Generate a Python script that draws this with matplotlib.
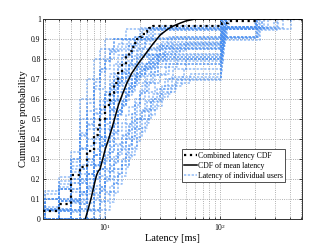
import numpy as np
import matplotlib
matplotlib.use("Agg")
import matplotlib.pyplot as plt
from matplotlib.ticker import LogLocator, NullFormatter

plt.rcParams["font.family"] = ["Liberation Serif", "DejaVu Serif"]
plt.rcParams["mathtext.fontset"] = "stix"

# latency samples [ms] of individual users (approximate)
user_latencies = [
    [2, 3, 4, 5, 5, 5, 6, 6, 6, 6, 7, 7, 8, 8, 9, 9, 10, 12, 104, 210],
    [3, 4, 4, 5, 5, 6, 6, 6, 7, 7, 7, 8, 8, 9, 10, 11, 14, 21, 102],
    [2, 2, 4, 5, 6, 6, 6, 7, 7, 7, 8, 8, 8, 9, 9, 10, 11, 12, 15, 103],
    [4, 5, 5, 6, 6, 7, 7, 7, 8, 8, 8, 9, 9, 10, 10, 11, 12, 16, 25, 101],
    [3, 5, 6, 6, 7, 7, 8, 8, 9, 9, 9, 10, 10, 11, 12, 13, 14, 17, 22, 106, 220],
    [5, 5, 6, 7, 7, 8, 8, 9, 9, 10, 10, 11, 11, 12, 13, 14, 16, 19, 28, 35, 102, 105],
    [2, 4, 6, 7, 8, 8, 9, 9, 10, 10, 10, 11, 12, 12, 13, 15, 18, 24, 30, 101, 103, 108],
    [6, 7, 7, 8, 8, 9, 9, 10, 10, 11, 11, 12, 13, 14, 15, 17, 20, 26, 104],
    [4, 6, 7, 8, 9, 9, 10, 10, 11, 11, 12, 12, 13, 14, 15, 16, 18, 21, 27, 33, 45, 102, 107, 215],
    [7, 8, 8, 9, 9, 10, 10, 11, 11, 12, 13, 13, 14, 15, 16, 18, 20, 23, 29, 38, 101, 104, 110],
    [9, 10, 11, 12, 13, 14, 15, 16, 17, 18, 19, 20, 22, 24, 27, 30, 36, 101, 103, 105, 108, 112],
    [8, 9, 10, 12, 13, 14, 16, 18, 19, 21, 23, 25, 28, 32, 40, 55, 102, 104, 106, 109, 212, 230],
    [3, 5, 8, 10, 12, 14, 15, 17, 19, 21, 24, 26, 30, 35, 101, 102, 104, 107, 111, 205],
    [2, 3, 5, 6, 9, 11, 13, 15, 17, 20, 22, 25, 28, 33, 39, 50, 103, 106, 109, 118],
    [6, 8, 9, 10, 11, 12, 13, 14, 15, 17, 18, 20, 22, 25, 29, 103, 105, 220, 310],
    [3, 4, 5, 5, 6, 7, 8, 9, 10, 11, 12, 13, 14, 16, 18, 22, 27, 102, 106, 107, 210, 350],
    [4, 4, 5, 5, 5, 6, 6, 7, 7, 8, 9, 10, 11, 12, 14, 17, 21, 104, 109, 112],
    [2, 3, 3, 4, 5, 5, 6, 6, 6, 7, 8, 9, 10, 12, 15, 19, 26, 103, 108, 205, 240],
    [5, 6, 6, 7, 7, 7, 8, 8, 8, 9, 9, 9, 10, 10, 11, 11, 12, 13, 15, 18, 24, 101],
    [6, 6, 7, 7, 8, 8, 8, 9, 9, 9, 10, 10, 10, 11, 11, 12, 12, 13, 14, 16, 19, 23, 31, 102, 104, 290],
    [4, 5, 6, 7, 7, 8, 9, 10, 11, 12, 13, 14, 15, 16, 18, 20, 23, 27, 34, 42, 101, 102, 103, 105, 209],
    [7, 9, 10, 11, 12, 13, 14, 15, 16, 17, 18, 19, 21, 23, 26, 31, 38, 48, 103, 104, 106, 107, 110, 115],
    [3, 4, 4, 5, 6, 6, 7, 7, 8, 9, 11, 13, 16, 20, 102, 104, 106],
    [5, 6, 7, 8, 8, 9, 10, 10, 11, 12, 13, 14, 15, 17, 19, 22, 26, 32, 101, 208, 410],
    [2, 4, 5, 5, 6, 6, 7, 7, 8, 8, 9, 9, 10, 10, 11, 12, 13, 14, 16, 18, 20, 102],
    [8, 9, 9, 10, 10, 11, 11, 12, 12, 13, 13, 14, 15, 16, 17, 19, 21, 24, 102, 106, 111],
    [4, 6, 6, 7, 7, 8, 8, 9, 9, 10, 10, 11, 12, 13, 15, 18, 22, 29, 101, 105, 215, 260],
    [10, 11, 12, 13, 14, 15, 16, 17, 19, 20, 22, 24, 27, 31, 35, 41, 102, 104, 105, 107, 109, 114, 203],
    [3, 4, 5, 6, 7, 8, 8, 9, 9, 10, 10, 11, 11, 12, 12, 13, 14, 15, 17, 19, 23, 103],
    [5, 5, 6, 6, 7, 7, 8, 8, 9, 10, 11, 12, 14, 16, 19, 24, 33, 102, 105, 110],
    [6, 7, 8, 9, 10, 11, 12, 13, 14, 15, 16, 17, 18, 19, 20, 22, 24, 26, 29, 34, 40, 50, 101, 103, 230],
    [4, 5, 6, 6, 7, 8, 9, 9, 10, 11, 12, 13, 14, 15, 17, 19, 22, 25, 30, 38, 104, 320],
    [2, 3, 4, 5, 6, 7, 8, 9, 10, 11, 12, 13, 15, 17, 20, 25, 102, 105, 107, 210],
    [7, 8, 9, 10, 11, 12, 13, 14, 15, 16, 17, 18, 20, 21, 23, 25, 28, 104, 106, 108, 112],
    [5, 6, 7, 7, 8, 8, 9, 9, 9, 10, 10, 11, 11, 11, 12, 12, 13, 13, 14, 15, 16, 17, 19, 22, 26, 31, 102],
    [3, 5, 6, 7, 8, 9, 10, 11, 12, 14, 16, 18, 21, 25, 30, 37, 46, 101, 102, 105, 106, 108, 112, 201],
    [3, 4, 4, 5, 5, 5, 6, 6, 6, 6, 6, 6, 7, 7, 8, 8, 9, 10, 101, 205],
    [2, 3, 3, 4, 4, 5, 5, 5, 6, 6, 7, 7, 7, 8, 8, 8, 9, 9, 10, 11, 13, 102, 103, 109],
]

# combined latency CDF (step values)
combined_x = [2.9, 4, 5, 6, 7, 8, 8.6, 9, 10, 11, 12, 13, 14, 15, 16, 17, 18, 19, 20,
              21, 22, 23, 24, 26, 103, 116, 214]
combined_y = [0.04, 0.075, 0.22, 0.26, 0.34, 0.42, 0.47, 0.5, 0.57, 0.63, 0.68, 0.73,
              0.77, 0.81, 0.84, 0.86, 0.88, 0.9, 0.91, 0.925, 0.935, 0.945, 0.955,
              0.967, 0.98, 0.99, 1.0]

# CDF of mean latency per user
mean_x = [6.7, 7.1, 7.5, 8.0, 8.4, 8.7, 9.0, 9.5, 10.0, 10.7, 11.5, 12.3, 13.0, 14.0,
          15.4, 17.0, 19.5, 22.0, 25.5, 30.0, 35.0, 39.0, 45.0, 50.0, 60.0]
mean_y = [0.0, 0.05, 0.1, 0.17, 0.22, 0.24, 0.25, 0.3, 0.35, 0.4, 0.46, 0.52, 0.57,
          0.62, 0.68, 0.73, 0.78, 0.82, 0.87, 0.92, 0.95, 0.965, 0.98, 0.99, 1.0]

y_ticks = [0, 0.1, 0.2, 0.3, 0.4, 0.5, 0.6, 0.7, 0.8, 0.9, 1]
y_ticklabels = ["0", "0.1", "0.2", "0.3", "0.4", "0.5", "0.6", "0.7", "0.8", "0.9", "1"]

fig = plt.figure(figsize=(3.34, 2.47), dpi=100)
ax = fig.add_axes([0.13, 0.113, 0.775, 0.81])

blue = "#4a8ff0"
for i, lat in enumerate(user_latencies):
    xs = np.sort(np.array(lat, dtype=float))
    ys = np.arange(1, len(xs) + 1) / len(xs)
    xs = np.concatenate([[1.0], xs, [1000.0]])
    ys = np.concatenate([[0.0], ys, [1.0]])
    ax.plot(xs, ys, drawstyle="steps-post", ls=(0, (1.5, 1)), lw=1.1, color=blue,
            alpha=0.6, label="Latency of individual users" if i == 0 else None, zorder=2)

ax.plot(combined_x + [1000], combined_y + [1.0], drawstyle="steps-post", ls=":",
        color="k", lw=1.6, label="Combined latency CDF", zorder=4)
ax.plot(mean_x + [1000], mean_y + [1.0], color="k", lw=1.1,
        label="CDF of mean latency", zorder=4)

ax.set_xscale("log")
ax.set_xlim(2.9, 515)
ax.set_ylim(0, 1)
ax.set_yticks(y_ticks)
ax.set_yticklabels(y_ticklabels)
ax.xaxis.set_minor_locator(LogLocator(base=10, subs=np.arange(2, 10)))
ax.xaxis.set_minor_formatter(NullFormatter())
ax.tick_params(which="both", direction="in", top=True, right=True, labelsize=5.5,
               length=2.5, width=0.5, pad=2)
ax.tick_params(which="minor", length=1.5)
ax.grid(True, which="major", ls=":", color="#999999", lw=0.6)
ax.grid(True, which="minor", axis="x", ls=":", color="#999999", lw=0.6)
for s in ax.spines.values():
    s.set_linewidth(0.7)
    s.set_color("#333333")

ax.set_xlabel("Latency [ms]", fontsize=7.5, labelpad=1)
ax.set_ylabel("Cumulative probability", fontsize=7.5, labelpad=2)

handles, labels = ax.get_legend_handles_labels()
order = [labels.index("Combined latency CDF"), labels.index("CDF of mean latency"),
         labels.index("Latency of individual users")]
leg = ax.legend([handles[k] for k in order], [labels[k] for k in order],
                loc="upper left", bbox_to_anchor=(0.535, 0.348), fontsize=5.6,
                fancybox=False, framealpha=1, edgecolor="#333333",
                handlelength=1.6, handletextpad=0.2, borderpad=0.3,
                labelspacing=0.25, borderaxespad=0)
leg.get_frame().set_linewidth(0.6)

fig.savefig("out.png", dpi=100)
